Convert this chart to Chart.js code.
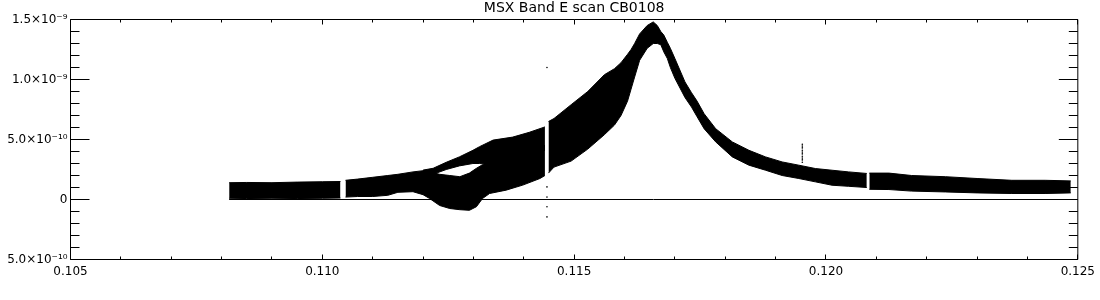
<!DOCTYPE html>
<html><head><meta charset="utf-8">
<script src="https://cdn.jsdelivr.net/npm/chart.js@4"></script>
<style>html,body{margin:0;padding:0;background:#fff;} canvas{display:block;}</style>
</head><body>
<canvas id="c" width="1100" height="300"></canvas>
<script>
const chartTitle = 'MSX Band E scan CB0108';
const xTickVals = [0.105, 0.110, 0.115, 0.120, 0.125];
const xTickLabels = ['0.105', '0.110', '0.115', '0.120', '0.125'];
const yTickVals = [-5e-10, 0, 5e-10, 1e-9, 1.5e-9];
const yTickLabels = ['5.0×10⁻¹⁰', '0', '5.0×10⁻¹⁰', '1.0×10⁻⁹', '1.5×10⁻⁹'];
const UNIT = 1e-10; // band values below are in units of 1e-10

// scan segment 1
const seg1X   = [0.10815, 0.1085, 0.1090, 0.1095, 0.1100, 0.11036];
const seg1Top = [1.40, 1.42, 1.40, 1.45, 1.48, 1.50];
const seg1Bot = [0.10, 0.08, 0.10, 0.08, 0.10, 0.12];

// scan segment 2
const seg2X   = [0.11046, 0.1107, 0.1110, 0.1113, 0.1115, 0.1118, 0.1120, 0.11213, 0.11233, 0.11253, 0.11273, 0.11292, 0.11306, 0.11318, 0.11332, 0.11365, 0.11398, 0.11432, 0.11442];
const seg2Top = [1.6, 1.7, 1.85, 2.0, 2.1, 2.3, 2.4, 2.3, 2.1, 2.0, 1.9, 2.2, 2.6, 2.9, 3.2, 3.6, 4.0, 4.4, 4.5];
const seg2Bot = [0.2, 0.25, 0.25, 0.35, 0.6, 0.65, 0.4, 0.08, -0.5, -0.75, -0.85, -0.9, -0.6, 0.08, 0.5, 0.78, 1.2, 1.75, 2.0];

// upper drifting track within segment 2
const trackX   = [0.1120, 0.1122, 0.11246, 0.11272, 0.11299, 0.11312, 0.11339, 0.11378, 0.11411, 0.11442];
const trackTop = [2.45, 2.6, 3.1, 3.55, 4.1, 4.4, 4.95, 5.2, 5.6, 6.05];
const trackBot = [2.2, 2.1, 2.5, 2.8, 3.0, 3.0, 2.9, 3.3, 3.7, 4.1];

// scan segment 3 (peak)
const seg3X   = [0.11449, 0.11460, 0.11494, 0.11527, 0.11560, 0.11580, 0.11593, 0.11606, 0.11613, 0.11620, 0.11630, 0.11645, 0.11657, 0.11665, 0.11672, 0.11678, 0.11685, 0.11691, 0.11700, 0.11720, 0.11733, 0.11744, 0.11758, 0.11781, 0.11814, 0.11847, 0.11880, 0.11913, 0.11946, 0.11979, 0.12012, 0.12045, 0.12081];
const seg3Top = [6.5, 6.75, 7.9, 9.0, 10.4, 10.9, 11.4, 12.1, 12.5, 13.0, 13.8, 14.5, 14.8, 14.5, 14.0, 13.7, 13.1, 12.6, 11.75, 9.8, 8.9, 8.2, 7.15, 5.9, 4.8, 4.1, 3.55, 3.13, 2.86, 2.58, 2.44, 2.3, 2.17];
const seg3Bot = [2.2, 2.7, 3.2, 4.2, 5.4, 6.2, 7.0, 8.2, 9.2, 10.2, 11.6, 12.6, 13.0, 13.0, 12.9, 12.3, 11.75, 11.0, 10.1, 8.5, 7.7, 6.9, 5.9, 4.8, 3.55, 2.86, 2.44, 2.0, 1.75, 1.47, 1.19, 1.1, 1.0];

// scan segment 4
const seg4X   = [0.12086, 0.12125, 0.1217, 0.12237, 0.1230, 0.12369, 0.12435, 0.12486];
const seg4Top = [2.2, 2.2, 2.0, 1.9, 1.75, 1.6, 1.6, 1.55];
const seg4Bot = [0.85, 0.83, 0.7, 0.63, 0.55, 0.5, 0.5, 0.55];

// isolated samples
const outX = [0.11446, 0.11446, 0.11446, 0.11446, 0.11446, 0.11953, 0.11953, 0.11953, 0.11953, 0.11953, 0.11953, 0.11953, 0.11953, 0.11953, 0.11953];
const outY = [11.0, 1.05, 0.2, -0.6, -1.45, 4.6, 4.45, 4.3, 4.1, 3.95, 3.8, 3.6, 3.45, 3.3, 3.1];

// zero reference line
const zeroX = [0.10815, 0.125];
const zeroY = [0, 0];

const pts = (xs, ys) => xs.map((x, i) => ({x: x, y: ys[i] * UNIT}));
const bandPair = (xs, top, bot) => [
  {data: pts(xs, top), borderColor: '#000', backgroundColor: '#000', borderWidth: 1, pointRadius: 0, fill: '+1', tension: 0},
  {data: pts(xs, bot), borderColor: '#000', backgroundColor: '#000', borderWidth: 1, pointRadius: 0, fill: false, tension: 0}
];

const datasets = [
  ...bandPair(seg1X, seg1Top, seg1Bot),
  ...bandPair(seg2X, seg2Top, seg2Bot),
  ...bandPair(trackX, trackTop, trackBot),
  ...bandPair(seg3X, seg3Top, seg3Bot),
  ...bandPair(seg4X, seg4Top, seg4Bot),
  {data: pts(outX, outY), showLine: false, pointRadius: 0.8, pointBorderWidth: 0, pointBackgroundColor: '#000', fill: false},
  {data: pts(zeroX, zeroY), borderColor: '#000', borderWidth: 1, pointRadius: 0, fill: false}
];

const frameTicks = {
  id: 'frameTicks',
  beforeDraw(chart) {
    const ctx = chart.ctx;
    ctx.save(); ctx.fillStyle = '#fff'; ctx.fillRect(0, 0, chart.width, chart.height); ctx.restore();
  },
  afterDatasetsDraw(chart) {
    const {ctx, chartArea: a, scales: {x, y}} = chart;
    ctx.save();
    ctx.strokeStyle = '#000';
    ctx.lineWidth = 1;
    ctx.beginPath();
    ctx.rect(a.left, a.top, a.right - a.left, a.bottom - a.top);
    for (let i = 0; i <= 20; i++) {
      const v = -5e-10 + i * 1e-10;
      const p = Math.round(y.getPixelForValue(v) - 0.5) + 0.5;
      const L = (i % 5 === 0) ? 19 : 9;
      ctx.moveTo(a.left, p); ctx.lineTo(a.left + L, p);
      ctx.moveTo(a.right, p); ctx.lineTo(a.right - L, p);
    }
    for (let i = 0; i <= 20; i++) {
      const v = 0.105 + i * 0.001;
      const p = Math.round(x.getPixelForValue(v) - 0.5) + 0.5;
      const L = (i % 5 === 0) ? 5 : 3;
      ctx.moveTo(p, a.bottom); ctx.lineTo(p, a.bottom - L);
      ctx.moveTo(p, a.top); ctx.lineTo(p, a.top + L);
    }
    ctx.stroke();
    ctx.restore();
  }
};

new Chart(document.getElementById('c'), {
  type: 'line',
  data: {datasets: datasets},
  options: {
    responsive: false,
    animation: false,
    devicePixelRatio: 1,
    layout: {padding: {left: 0, right: 20.5, top: 0, bottom: 0}},
    plugins: {
      legend: {display: false},
      tooltip: {enabled: false},
      title: {
        display: true, text: chartTitle, fullSize: false, color: '#000',
        font: {family: 'DejaVu Sans', size: 14, weight: 'normal', lineHeight: 1.2},
        padding: {top: 0, bottom: 2.7}
      }
    },
    scales: {
      x: {
        type: 'linear', min: 0.105, max: 0.125,
        grid: {display: false, drawTicks: false},
        border: {display: false},
        afterBuildTicks(s) { s.ticks = xTickVals.map(v => ({value: v})); },
        ticks: {
          callback: (v, i) => xTickLabels[i], color: '#000', autoSkip: false, maxRotation: 0,
          font: {family: 'DejaVu Sans', size: 12}, padding: 5
        },
        afterFit(s) { s.height = 40.5; }
      },
      y: {
        type: 'linear', min: -5e-10, max: 1.5e-9,
        grid: {display: false, drawTicks: false},
        border: {display: false},
        afterBuildTicks(s) { s.ticks = yTickVals.map(v => ({value: v})); },
        ticks: {
          callback: (v, i) => yTickLabels[i], color: '#000', autoSkip: false,
          font: {family: 'DejaVu Sans', size: 12}, padding: 3
        },
        afterFit(s) { s.width = 70.5; }
      }
    }
  },
  plugins: [frameTicks]
});
</script>
</body></html>
